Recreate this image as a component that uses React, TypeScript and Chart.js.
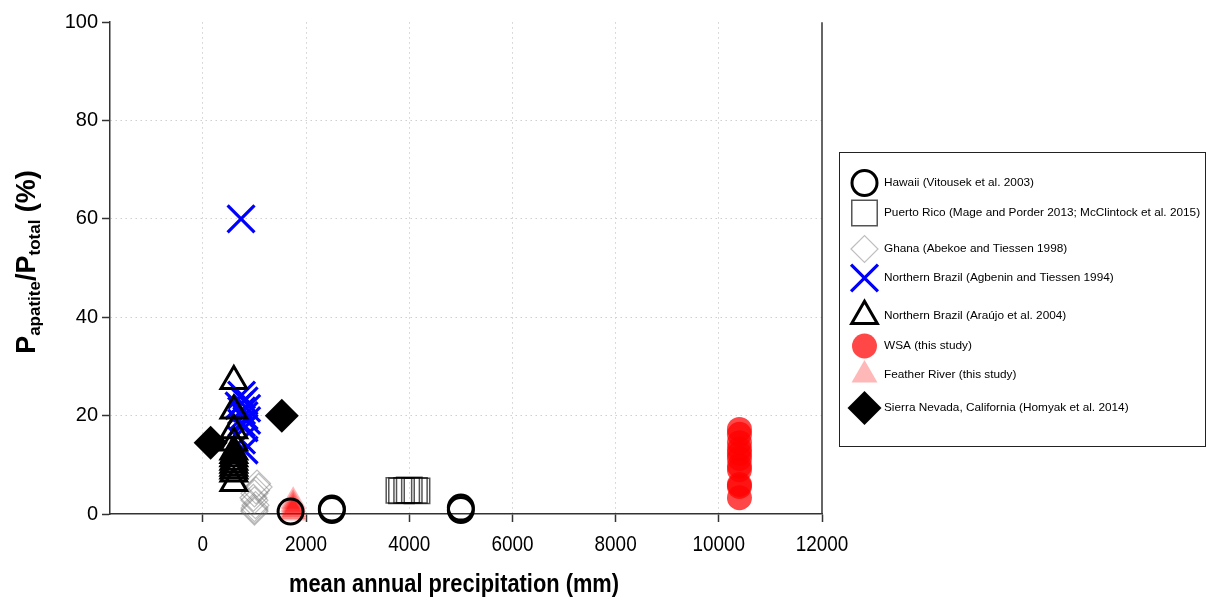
import React, { useEffect, useRef } from 'react';
import { Chart, registerables } from 'chart.js';
import { drawPoint } from 'chart.js/helpers';

Chart.register(...registerables);

// ---------- data ----------
const xTicks = [0, 2000, 4000, 6000, 8000, 10000, 12000];
const yTicks = [0, 20, 40, 60, 80, 100];

const seriesLabels = [
  'Hawaii (Vitousek et al. 2003)',
  'Puerto Rico (Mage and Porder 2013; McClintock et al. 2015)',
  'Ghana (Abekoe and Tiessen 1998)',
  'Northern Brazil (Agbenin and Tiessen 1994)',
  'Northern Brazil (Araújo et al. 2004)',
  'WSA (this study)',
  'Feather River (this study)',
  'Sierra Nevada, California (Homyak et al. 2014)',
];

const hawaiiX = [1700, 2500, 2500, 5000, 5000];
const hawaiiY = [0.5, 0.8, 1.1, 0.8, 1.3];

const puertoRicoX = [3800, 3850, 3950, 4000, 4100, 4150];
const puertoRicoY = [4.8, 4.7, 4.8, 4.9, 4.8, 4.7];

const ghanaX = [1050, 1080, 1030, 1000, 980, 1000, 1020, 1000, 1000, 1000];
const ghanaY = [6.2, 5.5, 4.8, 4.2, 3.3, 2.8, 1.8, 1.2, 0.8, 0.5];

const agbeninX = [740, 750, 800, 700, 850, 750, 800, 850, 750, 800, 750, 800];
const agbeninY = [60, 24.2, 23, 22, 21.5, 21, 20, 19, 18.5, 17.5, 15, 13];

const araujoX = [600, 600, 600, 600, 600, 600, 600, 600, 600, 600, 600, 600, 600];
const araujoY = [27, 21, 17, 14.5, 12.7, 12, 11.3, 10.6, 10, 9.4, 8.8, 8.2, 6.3];

const wsaX = [10400, 10400, 10400, 10400, 10400, 10400, 10400, 10400, 10400, 10400, 10400];
const wsaY = [17.2, 16.2, 14.5, 13.2, 12.3, 11.3, 9.8, 9, 6, 5.6, 3.3];

const featherX = [1750, 1750, 1750, 1750, 1750, 1750];
const featherY = [2.6, 2.0, 1.4, 0.9, 0.5, 0.2];

const sierraX = [150, 1530];
const sierraY = [14.5, 20];

// ---------- styles ----------
type Sty = {
  pointStyle: any;
  radius: number;
  fill: string;
  stroke: string;
  width: number;
  order: number;
};

const styles: Sty[] = [
  { pointStyle: 'circle', radius: 12.5, fill: 'rgba(0,0,0,0)', stroke: '#000', width: 3, order: 1 },
  { pointStyle: 'rect', radius: 18, fill: 'rgba(0,0,0,0)', stroke: 'rgba(0,0,0,0.67)', width: 1.5, order: 2 },
  { pointStyle: 'rectRot', radius: 13.5, fill: 'rgba(0,0,0,0)', stroke: 'rgba(110,110,110,0.45)', width: 1.2, order: 5 },
  { pointStyle: 'crossRot', radius: 19, fill: 'rgba(0,0,0,0)', stroke: '#0000ff', width: 3.2, order: 4 },
  { pointStyle: 'triangle', radius: 14.8, fill: 'rgba(0,0,0,0)', stroke: '#000', width: 3, order: 3 },
  { pointStyle: 'circle', radius: 12.5, fill: 'rgba(255,0,0,0.72)', stroke: 'rgba(0,0,0,0)', width: 0, order: 7 },
  { pointStyle: 'triangle', radius: 15, fill: 'rgba(255,0,0,0.28)', stroke: 'rgba(0,0,0,0)', width: 0, order: 6 },
  { pointStyle: 'rectRot', radius: 17, fill: '#000', stroke: '#000', width: 0, order: 0 },
];

const zip = (xs: number[], ys: number[]) => xs.map((x, i) => ({ x, y: ys[i] }));

const seriesData = [
  zip(hawaiiX, hawaiiY),
  zip(puertoRicoX, puertoRicoY),
  zip(ghanaX, ghanaY),
  zip(agbeninX, agbeninY),
  zip(araujoX, araujoY),
  zip(wsaX, wsaY),
  zip(featherX, featherY),
  zip(sierraX, sierraY),
];

const legendRowY = [183, 213, 249, 278, 316, 346, 375, 408];

const FONT = '"Liberation Sans", Arial, sans-serif';

const overlayPlugin = {
  id: 'overlay',
  afterDraw(chart: any) {
    const ctx: CanvasRenderingContext2D = chart.ctx;
    const area = chart.chartArea;
    const xScale = chart.scales.x;

    // right frame line
    ctx.save();
    ctx.strokeStyle = '#333';
    ctx.lineWidth = 1.5;
    ctx.beginPath();
    ctx.moveTo(area.right, area.top);
    ctx.lineTo(area.right, area.bottom);
    ctx.stroke();
    ctx.restore();

    // x tick labels (condensed)
    ctx.save();
    ctx.font = `22px ${FONT}`;
    ctx.fillStyle = '#000';
    ctx.textAlign = 'center';
    ctx.textBaseline = 'middle';
    xTicks.forEach((v) => {
      const px = xScale.getPixelForValue(v);
      ctx.save();
      ctx.translate(px, 545);
      ctx.scale(0.86, 1);
      ctx.fillText(String(v), 0, 0);
      ctx.restore();
    });
    ctx.restore();

    // y axis title with subscripts
    ctx.save();
    ctx.translate(35, 262);
    ctx.rotate(-Math.PI / 2);
    const runs: [string, boolean][] = [
      ['P', false],
      ['apatite', true],
      ['/P', false],
      ['total', true],
      [' (%)', false],
    ];
    const mainFont = `bold 27px ${FONT}`;
    const subFont = `bold 17px ${FONT}`;
    let total = 0;
    runs.forEach(([t, sub]) => {
      ctx.font = sub ? subFont : mainFont;
      total += ctx.measureText(t).width;
    });
    let cx = -total / 2;
    ctx.fillStyle = '#000';
    ctx.textAlign = 'left';
    ctx.textBaseline = 'alphabetic';
    runs.forEach(([t, sub]) => {
      ctx.font = sub ? subFont : mainFont;
      ctx.fillText(t, cx, sub ? 5 : 0);
      cx += ctx.measureText(t).width;
    });
    ctx.restore();

    // x axis title (condensed)
    ctx.save();
    ctx.font = `bold 26px ${FONT}`;
    ctx.fillStyle = '#000';
    ctx.textAlign = 'center';
    ctx.textBaseline = 'alphabetic';
    ctx.translate((area.left + area.right) / 2 - 12, 592);
    ctx.scale(0.84, 1);
    ctx.fillText('mean annual precipitation (mm)', 0, 0);
    ctx.restore();

    // legend box
    ctx.save();
    ctx.strokeStyle = '#222';
    ctx.lineWidth = 1;
    ctx.strokeRect(839.5, 152.5, 366, 294);
    ctx.restore();

    seriesLabels.forEach((label, i) => {
      const s = styles[i];
      const y = legendRowY[i];
      ctx.save();
      ctx.fillStyle = s.fill;
      ctx.strokeStyle = s.stroke;
      ctx.lineWidth = s.width;
      drawPoint(ctx, { pointStyle: s.pointStyle, radius: s.radius, borderWidth: s.width, rotation: 0 } as any, 864.5, y);
      ctx.restore();
      ctx.save();
      ctx.font = `11.8px ${FONT}`;
      ctx.fillStyle = '#000';
      ctx.textAlign = 'left';
      ctx.textBaseline = 'middle';
      ctx.fillText(label, 884, y);
      ctx.restore();
    });
  },
};

export default function App() {
  const ref = useRef<HTMLCanvasElement | null>(null);

  useEffect(() => {
    if (!ref.current) return;
    const chart = new Chart(ref.current, {
      type: 'scatter',
      data: {
        datasets: seriesData.map((data, i) => {
          const s = styles[i];
          return {
            label: seriesLabels[i],
            data,
            pointStyle: s.pointStyle,
            pointRadius: s.radius,
            pointHoverRadius: s.radius,
            pointBackgroundColor: s.fill,
            pointBorderColor: s.stroke,
            pointBorderWidth: s.width,
            pointHoverBorderWidth: s.width,
            backgroundColor: s.fill,
            borderColor: s.stroke,
            borderWidth: s.width,
            order: s.order,
            clip: false as any,
          };
        }),
      },
      options: {
        responsive: false,
        maintainAspectRatio: false,
        devicePixelRatio: 1,
        animation: false,
        events: [],
        layout: { padding: { left: 0, top: 16, right: 386, bottom: 0 } },
        plugins: {
          legend: { display: false },
          tooltip: { enabled: false },
          title: { display: false },
        },
        scales: {
          x: {
            type: 'linear',
            min: -1800,
            max: 12000,
            afterBuildTicks: (scale: any) => {
              scale.ticks = xTicks.map((v) => ({ value: v }));
            },
            afterFit: (scale: any) => {
              scale.height = 92;
            },
            ticks: { display: false },
            grid: {
              color: (c: any) => (c.tick && c.tick.value === 12000 ? 'rgba(0,0,0,0)' : '#cfcfcf'),
              lineWidth: 1,
              drawTicks: true,
              tickLength: 8,
              tickColor: '#333',
              tickWidth: 1.5,
            },
            border: { display: true, color: '#333', width: 1.5, dash: [1.5, 3.5] },
          },
          y: {
            type: 'linear',
            min: 0,
            max: 100,
            afterBuildTicks: (scale: any) => {
              scale.ticks = yTicks.map((v) => ({ value: v }));
            },
            afterFit: (scale: any) => {
              scale.width = 110;
            },
            ticks: {
              color: '#000',
              padding: 4,
              font: { family: FONT, size: 20 },
            },
            grid: {
              color: (c: any) =>
                c.tick && (c.tick.value === 100 || c.tick.value === 0) ? 'rgba(0,0,0,0)' : '#cfcfcf',
              lineWidth: 1,
              drawTicks: true,
              tickLength: 8,
              tickColor: '#333',
              tickWidth: 1.5,
            },
            border: { display: true, color: '#333', width: 1.5, dash: [1.5, 3.5] },
          },
        },
      } as any,
      plugins: [overlayPlugin],
    });
    return () => chart.destroy();
  }, []);

  return (
    <canvas
      ref={ref}
      width={1208}
      height={606}
      style={{ position: 'absolute', left: 0, top: 0, display: 'block' }}
    />
  );
}
